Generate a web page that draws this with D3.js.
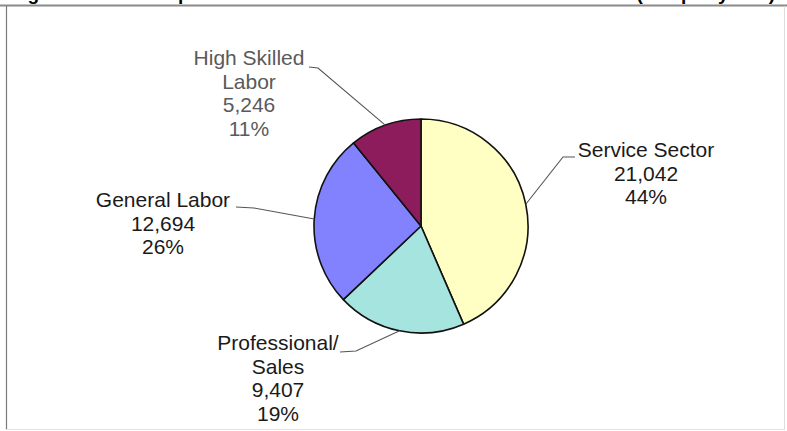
<!DOCTYPE html>
<html>
<head>
<meta charset="utf-8">
<script src="https://cdn.jsdelivr.net/npm/d3@7"></script>
<style>
  html, body { margin: 0; padding: 0; background: #fff; }
  svg { display: block; font-family: Arial, "Liberation Sans", sans-serif; }
</style>
</head>
<body>
<svg id="chart" width="787" height="431"></svg>
<script>
// Occupation categories, counts and printed shares
const categories = ["Service Sector", "Professional/Sales", "General Labor", "High Skilled Labor"];
const nameLines = [["Service Sector"], ["Professional/", "Sales"], ["General Labor"], ["High Skilled", "Labor"]];
const values = [21042, 9407, 12694, 5246];
const percentLabels = ["44%", "19%", "26%", "11%"];
const sliceColors = ["#FFFFC4", "#A6E4E0", "#8282FF", "#8C1C5C"];

const title = "Figure 4: Occupation Distribution Across All Sectors (Employers)";

const svg = d3.select("#chart");
const W = 787, H = 431;

// title (sits mostly above the frame)
svg.append("text")
  .attr("x", 5).attr("y", 0)
  .attr("font-size", 19).attr("font-weight", "bold").attr("fill", "#000")
  .attr("textLength", 770).attr("lengthAdjust", "spacing")
  .text(title);

// chart frame
svg.append("rect").attr("x", 0).attr("y", 5).attr("width", W).attr("height", H - 5).attr("fill", "#fff");
svg.append("line").attr("x1", 0).attr("x2", W).attr("y1", 5.5).attr("y2", 5.5)
  .attr("stroke", "#8a8a8a").attr("stroke-width", 2);
svg.append("line").attr("x1", 6.5).attr("x2", 6.5).attr("y1", 6).attr("y2", 430)
  .attr("stroke", "#7a7a7a").attr("stroke-width", 1.2);
svg.append("line").attr("x1", 784.5).attr("x2", 784.5).attr("y1", 6).attr("y2", 430)
  .attr("stroke", "#dcdcdc").attr("stroke-width", 1);
svg.append("line").attr("x1", 6).attr("x2", 785).attr("y1", 429.5).attr("y2", 429.5)
  .attr("stroke", "#e2e2e2").attr("stroke-width", 1);

// pie
const cx = 421, cy = 226, R = 107;
const pie = d3.pie().sort(null).value(d => d)(values);
const arc = d3.arc().innerRadius(0).outerRadius(R);
const g = svg.append("g").attr("transform", `translate(${cx},${cy})`);

g.selectAll("path.slice")
  .data(pie)
  .join("path")
  .attr("class", "slice")
  .attr("d", arc)
  .attr("fill", (d, i) => sliceColors[i])
  .attr("stroke", "#111")
  .attr("stroke-width", 1.6)
  .attr("stroke-linejoin", "round");

// label layout: text centre x, first baseline y, leader attachment and elbow
const labelLayout = [
  { x: 646, y: 157, attach: [575, 157], elbow: [563, 157], color: "#1a1a1a" },
  { x: 278, y: 350, attach: [340, 352], elbow: [356, 351], color: "#1a1a1a" },
  { x: 163, y: 207, attach: [236, 207], elbow: [254, 208], color: "#1a1a1a" },
  { x: 249, y: 65, attach: [309, 67], elbow: [318, 68], color: "#5a5a5a" }
];
const lineH = 23.5;
const fmt = d3.format(",");

const labels = svg.append("g");
pie.forEach((d, i) => {
  const L = labelLayout[i];
  const mid = (d.startAngle + d.endAngle) / 2;
  const px = cx + R * Math.sin(mid), py = cy - R * Math.cos(mid);
  labels.append("path")
    .attr("d", d3.line()([L.attach, L.elbow, [px, py]]))
    .attr("fill", "none").attr("stroke", "#555").attr("stroke-width", 1.1);

  const lines = nameLines[i].concat([fmt(values[i]), percentLabels[i]]);
  const t = labels.append("text")
    .attr("text-anchor", "middle")
    .attr("font-size", 21)
    .attr("fill", L.color);
  lines.forEach((s, k) => {
    t.append("tspan").attr("x", L.x).attr("y", L.y + k * lineH).text(s);
  });
});
</script>
</body>
</html>
